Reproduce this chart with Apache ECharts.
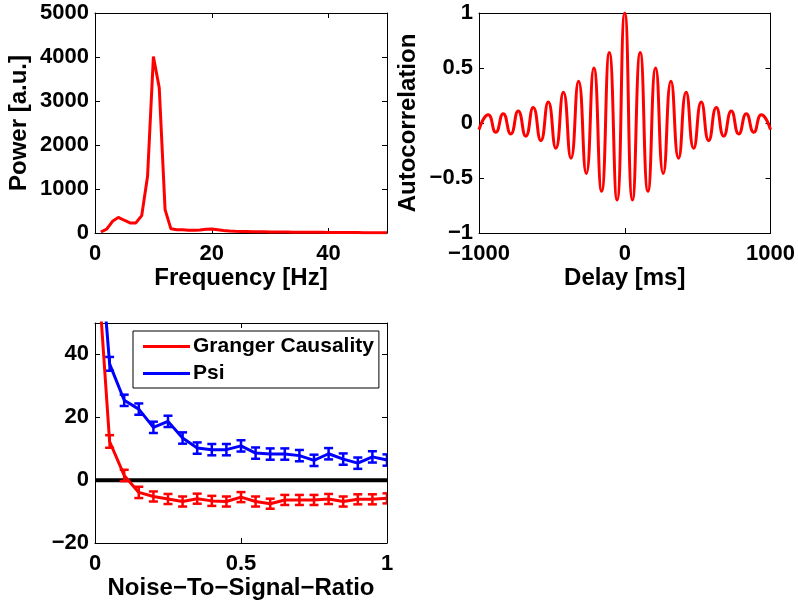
<!DOCTYPE html>
<html>
<head>
<meta charset="utf-8">
<script src="https://cdn.jsdelivr.net/npm/echarts@6/dist/echarts.min.js"></script>
<style>
  html, body { margin: 0; padding: 0; background: #fff; }
  #chart { width: 798px; height: 604px; }
</style>
</head>
<body>
<div id="chart"></div>
<script>
// power spectrum
const FREQ_HZ = [1, 2, 3, 4, 5, 6, 7, 8, 9, 10, 11, 12, 13, 14, 15, 16, 17, 18, 19, 20,
  21, 22, 23, 24, 25, 26, 27, 28, 29, 30, 31, 32, 33, 34, 35, 36, 37, 38, 39, 40,
  41, 42, 43, 44, 45, 46, 47, 48, 49, 50]
const POWER = [23, 90, 265, 355, 290, 230, 230, 395, 1290, 4010, 3300, 530, 95, 75, 72, 65, 62, 70, 85, 92,
  75, 55, 45, 40, 36, 33, 30, 28, 26, 24, 22, 21, 20, 19, 18, 17, 16, 15, 15, 14,
  13, 12, 11, 10, 9, 8, 7, 6, 6, 5]

// autocorrelation, peaks and troughs
const DELAY_MS = [-1000, -937, -885, -834, -782, -731, -679, -628, -576, -525, -473, -421, -369, -317, -264, -212, -159, -106, -53,
  0, 53, 106, 159, 212, 264, 317, 369, 421, 473, 525, 576, 628, 679, 731, 782, 834, 885, 937, 1000]
const AUTOCORR = [-0.06, 0.076, -0.085, 0.085, -0.1, 0.11, -0.12, 0.14, -0.16, 0.19, -0.23, 0.28, -0.32, 0.38, -0.46, 0.5, -0.62, 0.64, -0.7,
  1, -0.7, 0.64, -0.62, 0.5, -0.46, 0.38, -0.32, 0.28, -0.23, 0.19, -0.16, 0.14, -0.12, 0.11, -0.1, 0.085, -0.085, 0.076, -0.06]

// noise to signal ratio
const NSR = [0, 0.05, 0.1, 0.15, 0.2, 0.25, 0.3, 0.35, 0.4, 0.45, 0.5, 0.55, 0.6, 0.65, 0.7, 0.75, 0.8, 0.85, 0.9, 0.95, 1]
const GRANGER = [80, 12.3, 1.5, -3.9, -5.2, -6.0, -6.8, -5.9, -6.6, -6.8, -5.4, -6.8, -7.5, -6.3, -6.3, -6.3, -6.0, -6.8, -6.1, -6.1, -5.8]
const GRANGER_ERR = [null, 2.0, 1.8, 1.8, 1.6, 1.6, 1.6, 1.6, 1.6, 1.6, 1.6, 1.6, 1.6, 1.6, 1.6, 1.6, 1.6, 1.6, 1.6, 1.6, 1.6]
const PSI = [95, 37, 25.4, 22.6, 16.8, 18.7, 13.4, 10.2, 9.7, 9.7, 10.9, 8.6, 8.3, 8.3, 7.8, 6.3, 8.4, 6.7, 5.4, 7.4, 6.4]
const PSI_ERR = [null, 2.2, 1.8, 1.8, 1.8, 1.8, 1.8, 1.8, 1.8, 1.8, 1.8, 1.8, 1.8, 1.8, 1.8, 1.8, 1.8, 1.8, 1.8, 1.8, 1.8]

const RED = '#ff0000'
const BLUE = '#0000ff'
const FONT = 'Liberation Sans, Arial, Helvetica, sans-serif'

const minus = (v) => String(v).replace('-', '\u2212')

const tickLabel = (margin, extra = {}) => ({
  color: '#000', fontFamily: FONT, fontWeight: 'bold', fontSize: 22, margin,
  formatter: minus, ...extra
})
const nameStyle = { color: '#000', fontFamily: FONT, fontWeight: 'bold', fontSize: 24 }
const lineStyle = { color: '#000', width: 1 }

// main axis + mirrored axis so the box has ticks on all four sides
function xPair (grid, min, max, interval, name, nameGap, hideMax) {
  const base = {
    gridIndex: grid, type: 'value', min, max, interval,
    axisLine: { show: true, onZero: false, lineStyle },
    axisTick: { show: true, inside: true, length: 5, lineStyle },
    splitLine: { show: false }
  }
  return [
    { ...base, position: 'bottom', name, nameLocation: 'middle', nameGap, nameTextStyle: nameStyle,
      axisLabel: tickLabel(10, { showMaxLabel: !hideMax }) },
    { ...base, position: 'top', axisLabel: { show: false } }
  ]
}
function yPair (grid, min, max, interval, name, nameGap, hideMax) {
  const base = {
    gridIndex: grid, type: 'value', min, max, interval,
    axisLine: { show: true, onZero: false, lineStyle },
    axisTick: { show: true, inside: true, length: 5, lineStyle },
    splitLine: { show: false }
  }
  return [
    { ...base, position: 'left', name, nameLocation: 'middle', nameGap, nameTextStyle: nameStyle,
      axisLabel: tickLabel(6, { showMaxLabel: !hideMax }) },
    { ...base, position: 'right', axisLabel: { show: false } }
  ]
}

function errorBars (name, xs, ys, errs, color) {
  const data = []
  xs.forEach((x, i) => {
    if (errs[i] != null) data.push([x, ys[i] - errs[i], ys[i] + errs[i]])
  })
  return {
    name, type: 'custom', xAxisIndex: 4, yAxisIndex: 4, clip: true, z: 3,
    encode: { x: 0, y: [1, 2] },
    data,
    renderItem: (params, api) => {
      const lo = api.coord([api.value(0), api.value(1)])
      const hi = api.coord([api.value(0), api.value(2)])
      const w = 4.5
      const style = { stroke: color, lineWidth: 2.5 }
      return {
        type: 'group',
        children: [
          { type: 'line', shape: { x1: lo[0], y1: lo[1], x2: hi[0], y2: hi[1] }, style },
          { type: 'line', shape: { x1: lo[0] - w, y1: lo[1], x2: lo[0] + w, y2: lo[1] }, style },
          { type: 'line', shape: { x1: hi[0] - w, y1: hi[1], x2: hi[0] + w, y2: hi[1] }, style }
        ]
      }
    }
  }
}

const chart = echarts.init(document.getElementById('chart'))

const option = {
  animation: false,
  backgroundColor: '#fff',
  grid: [
    { left: 95, top: 13, width: 292, height: 220 },
    { left: 479, top: 13, width: 292, height: 220 },
    { left: 95, top: 323, width: 292, height: 220 }
  ],
  xAxis: [
    ...xPair(0, 0, 50, 20, 'Frequency [Hz]', 33, true),
    ...xPair(1, -1000, 1000, 1000, 'Delay [ms]', 33, false),
    ...xPair(2, 0, 1, 0.5, 'Noise\u2212To\u2212Signal\u2212Ratio', 32, false)
  ],
  yAxis: [
    ...yPair(0, 0, 5000, 1000, 'Power [a.u.]', 64, false),
    ...yPair(1, -1, 1, 0.5, 'Autocorrelation', 59, false),
    ...yPair(2, -20, 50, 20, '', 0, true)
  ],
  legend: {
    data: ['Granger Causality', 'Psi'],
    orient: 'vertical',
    left: 133,
    top: 331,
    icon: 'rect',
    itemWidth: 47,
    itemHeight: 3,
    itemGap: 6,
    padding: [5, 5, 4, 10],
    borderColor: '#000',
    borderWidth: 1,
    backgroundColor: '#fff',
    textStyle: { color: '#000', fontFamily: FONT, fontWeight: 'bold', fontSize: 21, padding: [0, 0, 0, -2] }
  },
  series: [
    {
      name: 'Power', type: 'line', xAxisIndex: 0, yAxisIndex: 0,
      data: FREQ_HZ.map((f, i) => [f, POWER[i]]),
      showSymbol: false, lineStyle: { color: RED, width: 3 }, itemStyle: { color: RED }
    },
    {
      name: 'Autocorrelation', type: 'line', xAxisIndex: 2, yAxisIndex: 2,
      data: DELAY_MS.map((d, i) => [d, AUTOCORR[i]]),
      smooth: 0.55, showSymbol: false, lineStyle: { color: RED, width: 3 }, itemStyle: { color: RED }
    },
    {
      name: 'zero', type: 'line', xAxisIndex: 4, yAxisIndex: 4,
      data: [[0, 0], [1, 0]],
      showSymbol: false, lineStyle: { color: '#000', width: 4 }, z: 1
    },
    {
      name: 'Granger Causality', type: 'line', xAxisIndex: 4, yAxisIndex: 4,
      data: NSR.map((x, i) => [x, GRANGER[i]]),
      showSymbol: false, lineStyle: { color: RED, width: 3 }, itemStyle: { color: RED }
    },
    {
      name: 'Psi', type: 'line', xAxisIndex: 4, yAxisIndex: 4,
      data: NSR.map((x, i) => [x, PSI[i]]),
      showSymbol: false, lineStyle: { color: BLUE, width: 3 }, itemStyle: { color: BLUE }
    },
    errorBars('Granger Causality error', NSR, GRANGER, GRANGER_ERR, RED),
    errorBars('Psi error', NSR, PSI, PSI_ERR, BLUE)
  ]
}

chart.setOption(option)
</script>
</body>
</html>
